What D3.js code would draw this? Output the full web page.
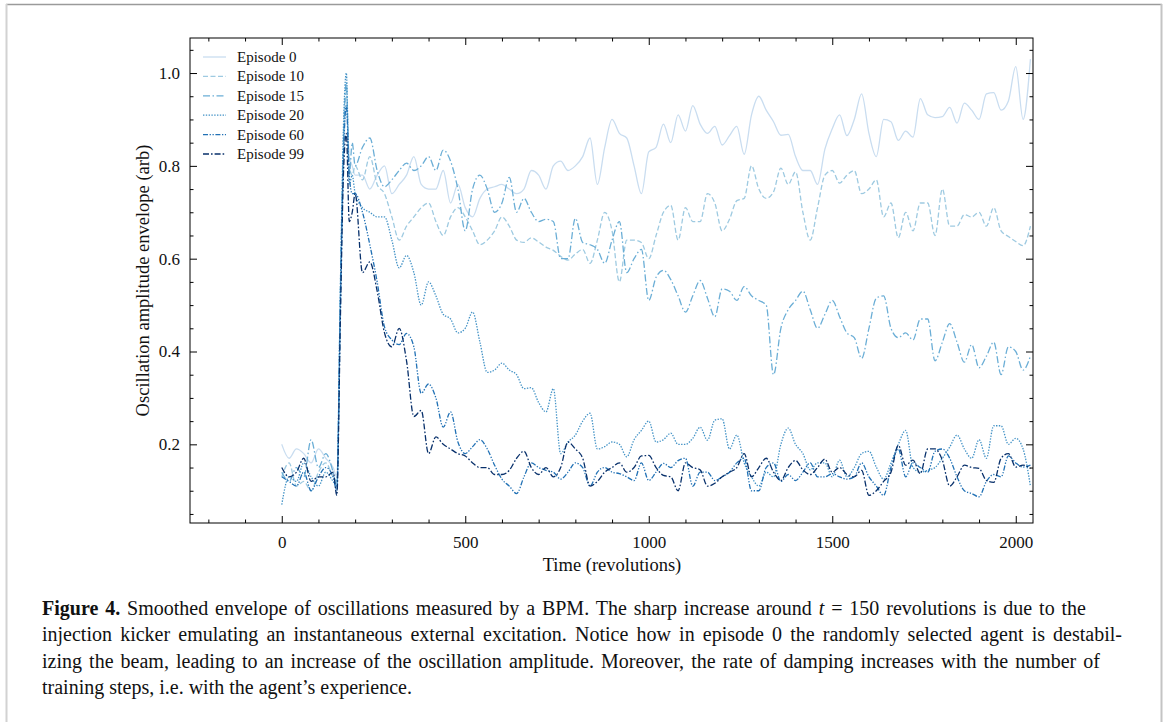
<!DOCTYPE html>
<html>
<head>
<meta charset="utf-8">
<script src="https://cdn.jsdelivr.net/npm/d3@7"></script>
<style>
  body { margin: 0; background: #fff; }
  svg { display: block; }
  .tick text { font-family: "Liberation Serif", serif; font-size: 17px; fill: #111; }
  .tick line { stroke: #000; stroke-width: 1; }
</style>
</head>
<body>
<svg id="chart" width="1165" height="722"></svg>
<script>
// time grid (revolutions), finer around the kick
const T = [0, 20, 40, 60, 80, 100, 120, 140, 150, 160, 168, 176, 184, 192]
  .concat(d3.range(200, 2041, 20));

const ep0 = [0.20,0.17,0.19,0.18,0.16,0.19,0.17,0.15,
  0.13,0.50,0.80,0.93,0.82,0.80,
  0.78,0.78,0.75,0.78,0.80,0.74,0.76,0.78,0.82,0.76,
  0.75,0.75,0.79,0.72,0.76,0.71,0.69,0.73,0.75,0.755,
  0.76,0.75,0.74,0.75,0.79,0.78,0.75,0.80,0.81,0.79,
  0.80,0.82,0.86,0.76,0.84,0.90,0.87,0.86,0.80,0.74,
  0.83,0.84,0.89,0.85,0.91,0.875,0.93,0.89,0.87,0.885,
  0.845,0.865,0.885,0.825,0.91,0.95,0.92,0.895,0.866,0.868,
  0.82,0.79,0.79,0.76,0.836,0.88,0.91,0.865,0.90,0.955,
  0.87,0.82,0.90,0.895,0.855,0.875,0.862,0.945,0.91,0.904,
  0.906,0.926,0.892,0.935,0.92,0.90,0.955,0.958,0.92,0.94,
  1.014,0.90,1.03];

const ep10 = [0.13,0.16,0.11,0.12,0.10,0.14,0.16,0.13,
  0.12,0.50,0.82,0.96,0.80,0.78,
  0.80,0.77,0.82,0.76,0.74,0.69,0.64,0.67,0.69,0.71,
  0.72,0.68,0.65,0.69,0.71,0.69,0.66,0.63,0.64,0.66,
  0.69,0.67,0.64,0.635,0.645,0.636,0.625,0.618,0.605,0.597,
  0.61,0.62,0.59,0.64,0.70,0.66,0.55,0.64,0.64,0.635,
  0.60,0.65,0.70,0.715,0.64,0.71,0.68,0.68,0.74,0.72,
  0.66,0.685,0.725,0.73,0.80,0.75,0.73,0.744,0.795,0.76,
  0.787,0.70,0.64,0.71,0.78,0.79,0.763,0.78,0.79,0.74,
  0.75,0.77,0.69,0.72,0.645,0.70,0.66,0.72,0.72,0.65,
  0.75,0.67,0.67,0.695,0.69,0.70,0.67,0.71,0.66,0.648,
  0.637,0.628,0.67];

const ep15 = [0.14,0.12,0.15,0.13,0.21,0.15,0.18,0.14,
  0.11,0.55,0.85,0.98,0.78,0.85,
  0.80,0.84,0.86,0.79,0.755,0.77,0.79,0.806,0.79,0.80,
  0.82,0.79,0.834,0.81,0.75,0.66,0.75,0.78,0.75,0.70,
  0.72,0.775,0.70,0.73,0.70,0.68,0.685,0.68,0.60,0.60,
  0.687,0.635,0.63,0.62,0.59,0.64,0.68,0.57,0.60,0.62,
  0.51,0.56,0.575,0.555,0.52,0.485,0.52,0.553,0.515,0.475,
  0.535,0.53,0.51,0.54,0.52,0.51,0.50,0.35,0.45,0.49,
  0.51,0.53,0.49,0.45,0.48,0.51,0.475,0.44,0.43,0.385,
  0.45,0.515,0.52,0.45,0.43,0.44,0.425,0.47,0.47,0.38,
  0.42,0.46,0.42,0.377,0.415,0.365,0.39,0.42,0.35,0.41,
  0.40,0.36,0.39];

const ep20 = [0.07,0.13,0.12,0.16,0.13,0.11,0.14,0.12,
  0.11,0.55,0.88,1.0,0.76,0.78,
  0.74,0.71,0.70,0.69,0.69,0.64,0.58,0.607,0.57,0.50,
  0.55,0.52,0.48,0.47,0.44,0.45,0.485,0.42,0.355,0.36,
  0.375,0.36,0.35,0.32,0.322,0.29,0.27,0.32,0.18,0.205,
  0.22,0.25,0.267,0.19,0.195,0.205,0.20,0.173,0.21,0.23,
  0.25,0.205,0.21,0.224,0.20,0.20,0.213,0.237,0.209,0.252,
  0.255,0.19,0.22,0.16,0.13,0.11,0.14,0.13,0.20,0.235,
  0.20,0.18,0.145,0.16,0.16,0.13,0.166,0.13,0.15,0.18,
  0.185,0.151,0.125,0.16,0.20,0.23,0.15,0.14,0.144,0.15,
  0.17,0.194,0.22,0.19,0.17,0.21,0.17,0.24,0.24,0.20,
  0.213,0.19,0.11];

const ep60 = [0.13,0.12,0.11,0.14,0.10,0.13,0.15,0.13,
  0.10,0.52,0.82,0.93,0.78,0.74,
  0.74,0.70,0.63,0.55,0.453,0.425,0.415,0.439,0.41,0.31,
  0.33,0.30,0.237,0.27,0.205,0.18,0.195,0.21,0.19,0.155,
  0.125,0.11,0.094,0.13,0.16,0.15,0.144,0.14,0.125,0.14,
  0.16,0.15,0.11,0.14,0.15,0.14,0.137,0.13,0.122,0.16,
  0.122,0.14,0.159,0.15,0.165,0.17,0.11,0.14,0.14,0.122,
  0.13,0.14,0.16,0.17,0.10,0.10,0.15,0.16,0.12,0.135,
  0.122,0.14,0.16,0.13,0.13,0.137,0.13,0.125,0.13,0.16,
  0.13,0.11,0.09,0.15,0.19,0.13,0.16,0.15,0.14,0.185,
  0.19,0.17,0.13,0.10,0.094,0.087,0.12,0.135,0.13,0.175,
  0.16,0.151,0.155];

const ep99 = [0.15,0.13,0.14,0.17,0.12,0.13,0.13,0.14,
  0.09,0.48,0.78,0.87,0.68,0.70,
  0.74,0.57,0.593,0.53,0.44,0.41,0.45,0.38,0.26,0.273,
  0.18,0.216,0.20,0.19,0.18,0.175,0.16,0.15,0.15,0.135,
  0.135,0.144,0.17,0.185,0.15,0.135,0.15,0.13,0.15,0.205,
  0.19,0.17,0.11,0.12,0.14,0.15,0.16,0.14,0.15,0.175,
  0.176,0.15,0.133,0.13,0.10,0.16,0.15,0.145,0.11,0.116,
  0.13,0.14,0.15,0.18,0.13,0.15,0.17,0.14,0.122,0.15,
  0.165,0.145,0.135,0.15,0.168,0.14,0.15,0.135,0.13,0.144,
  0.09,0.10,0.12,0.14,0.198,0.155,0.166,0.137,0.19,0.19,
  0.166,0.11,0.13,0.155,0.15,0.148,0.122,0.118,0.17,0.18,
  0.151,0.155,0.148];

const episodes = ["Episode 0", "Episode 10", "Episode 15", "Episode 20", "Episode 60", "Episode 99"];
const seriesValues = [ep0, ep10, ep15, ep20, ep60, ep99];
const xMajorTicks = [0, 500, 1000, 1500, 2000];
const yMajorTicks = [0.2, 0.4, 0.6, 0.8, 1.0];

const colors = ["#c9ddf0", "#9ecae1", "#6baed6", "#4292c6", "#2171b5", "#08306b"];
const dashes = ["none", "5,2.5", "7,2.5,1.5,2.5", "1.4,1.4", "5,1.6,1.3,1.6,1.3,1.6", "6,2,1.6,2"];

const plot = { left: 190, right: 1033, top: 38, bottom: 523 };

const svg = d3.select("#chart");

// figure frame
svg.append("line").attr("x1", 6).attr("x2", 1162).attr("y1", 4.5).attr("y2", 4.5)
  .attr("stroke", "#9a9a9a").attr("stroke-width", 1.5);
svg.append("line").attr("x1", 6.5).attr("x2", 6.5).attr("y1", 4).attr("y2", 722)
  .attr("stroke", "#d2d2d2").attr("stroke-width", 2);
svg.append("line").attr("x1", 1161.5).attr("x2", 1161.5).attr("y1", 4).attr("y2", 722)
  .attr("stroke", "#c4c4c4").attr("stroke-width", 2);

const x = d3.scaleLinear().domain([-250, 2047]).range([plot.left, plot.right]);
const y = d3.scaleLinear().domain([0.0305, 1.0755]).range([plot.bottom, plot.top]);

svg.append("clipPath").attr("id", "clip")
  .append("rect")
  .attr("x", plot.left).attr("y", plot.top)
  .attr("width", plot.right - plot.left).attr("height", plot.bottom - plot.top);

const line = d3.line()
  .x((d) => x(d[0]))
  .y((d) => y(d[1]))
  .curve(d3.curveMonotoneX);

const lines = svg.append("g").attr("clip-path", "url(#clip)");
seriesValues.forEach((vals, i) => {
  lines.append("path")
    .datum(d3.zip(T, vals))
    .attr("d", line)
    .attr("fill", "none")
    .attr("stroke", colors[i])
    .attr("stroke-width", 1.3)
    .attr("stroke-dasharray", dashes[i]);
});

// axes: ticks point inward on all four sides
const xMinor = d3.range(-200, 2001, 100).filter((d) => d % 500 !== 0);
const yMinor = d3.range(1, 22).map((d) => d * 0.05).filter((d) => Math.abs(d * 5 - Math.round(d * 5)) > 1e-6);
const noDomain = (g) => g.select(".domain").remove();

svg.append("g").attr("transform", `translate(0,${plot.bottom})`)
  .call(d3.axisBottom(x).tickValues(xMinor).tickSize(-3.5).tickFormat("")).call(noDomain);
svg.append("g").attr("transform", `translate(0,${plot.bottom})`)
  .call(d3.axisBottom(x).tickValues(xMajorTicks).tickSize(-7).tickPadding(13).tickFormat(d3.format("d")))
  .call(noDomain);
svg.append("g").attr("transform", `translate(0,${plot.top})`)
  .call(d3.axisTop(x).tickValues(xMinor).tickSize(-3.5).tickFormat("")).call(noDomain);
svg.append("g").attr("transform", `translate(0,${plot.top})`)
  .call(d3.axisTop(x).tickValues(xMajorTicks).tickSize(-7).tickFormat("")).call(noDomain);

svg.append("g").attr("transform", `translate(${plot.left},0)`)
  .call(d3.axisLeft(y).tickValues(yMinor).tickSize(-3.5).tickFormat("")).call(noDomain);
svg.append("g").attr("transform", `translate(${plot.left},0)`)
  .call(d3.axisLeft(y).tickValues(yMajorTicks).tickSize(-7).tickPadding(10).tickFormat(d3.format(".1f")))
  .call(noDomain);
svg.append("g").attr("transform", `translate(${plot.right},0)`)
  .call(d3.axisRight(y).tickValues(yMinor).tickSize(-3.5).tickFormat("")).call(noDomain);
svg.append("g").attr("transform", `translate(${plot.right},0)`)
  .call(d3.axisRight(y).tickValues(yMajorTicks).tickSize(-7).tickFormat("")).call(noDomain);

svg.append("rect")
  .attr("x", plot.left).attr("y", plot.top)
  .attr("width", plot.right - plot.left).attr("height", plot.bottom - plot.top)
  .attr("fill", "none").attr("stroke", "#000").attr("stroke-width", 1);

// axis labels
const serif = '"Liberation Serif", serif';
svg.append("text")
  .attr("x", (plot.left + plot.right) / 2 + 0.5).attr("y", 571)
  .attr("text-anchor", "middle")
  .style("font-family", serif).style("font-size", "18.5px").attr("fill", "#111")
  .text("Time (revolutions)");
svg.append("text")
  .attr("transform", `translate(149,${(plot.top + plot.bottom) / 2}) rotate(-90)`)
  .attr("text-anchor", "middle")
  .style("font-family", serif).style("font-size", "18.5px").attr("fill", "#111")
  .text("Oscillation amplitude envelope (arb)");

// legend
const legend = svg.append("g").attr("transform", "translate(203,57)");
episodes.forEach((name, i) => {
  const row = legend.append("g").attr("transform", `translate(0,${i * 19.4})`);
  row.append("line").attr("x1", 0).attr("x2", 23)
    .attr("stroke", colors[i]).attr("stroke-width", 1.3).attr("stroke-dasharray", dashes[i]);
  row.append("text").attr("x", 34).attr("dy", "0.33em")
    .style("font-family", serif).style("font-size", "15px").attr("fill", "#111")
    .text(name);
});

// caption, justified by word spacing
const captionLines = [
  [{ t: "Figure 4.", w: "bold" }, { t: " Smoothed envelope of oscillations measured by a BPM. The sharp increase around " },
   { t: "t", s: "italic" }, { t: " = 150 revolutions is due to the" }],
  [{ t: "injection kicker emulating an instantaneous external excitation. Notice how in episode 0 the randomly selected agent is destabil-" }],
  [{ t: "izing the beam, leading to an increase of the oscillation amplitude. Moreover, the rate of damping increases with the number of" }],
  [{ t: "training steps, i.e. with the agent\u2019s experience." }],
];
const captionWidths = [1044, 1080, 1058, null];
captionLines.forEach((parts, i) => {
  const txt = svg.append("text")
    .attr("x", 42).attr("y", 615 + i * 26.4)
    .style("font-family", serif).style("font-size", "20px").attr("fill", "#111")
    .attr("xml:space", "preserve");
  parts.forEach((p) => {
    txt.append("tspan").text(p.t)
      .style("font-weight", p.w || "normal")
      .style("font-style", p.s || "normal");
  });
  if (captionWidths[i]) {
    const natural = txt.node().getComputedTextLength();
    const spaces = parts.map((p) => p.t).join("").split(" ").length - 1;
    txt.style("word-spacing", `${(captionWidths[i] - natural) / spaces}px`);
  }
});
</script>
</body>
</html>
